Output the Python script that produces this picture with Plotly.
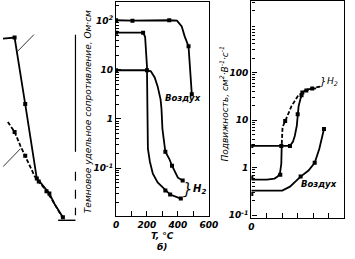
import plotly.graph_objects as go

W, H = 355, 259

# ---------------- data ----------------
# panel a (left, partly cut off): resistivity, arbitrary abscissa
a_x_solid = [0, 12, 23, 35, 38, 48, 53, 58, 62]
a_y_solid = [43.3, 45.4, 2.01, 0.0614, 0.0533, 0.0305, 0.0192, 0.0132, 0.0100]
a_x_solid_pts = [12, 23, 35, 48, 62]
a_y_solid_pts = [45.4, 2.01, 0.0614, 0.0305, 0.0100]
a_x_dash = [5, 12, 18, 23, 28, 33, 37, 43, 50, 57, 62]
a_y_dash = [0.87, 0.546, 0.285, 0.179, 0.112, 0.0673, 0.0533, 0.0386, 0.0242, 0.0138, 0.0095]
a_x_dash_pts = [12, 23, 37, 45]
a_y_dash_pts = [0.546, 0.179, 0.0533, 0.034]
a_lead1_x, a_lead1_y = [15, 32], [23.7, 52.1]
a_lead2_x, a_lead2_y = [0, 18], [0.107, 0.248]

# panel б (middle): dark resistivity, Ом·см, vs T, °C
t_air = [0, 106, 344, 394, 425, 444, 469, 478, 485, 490]
rho_air = [102, 100, 102, 100, 76, 48, 30, 12, 5.6, 3.2]
t_air_pts = [0, 106, 344, 469, 490]
rho_air_pts = [102, 100, 102, 30, 3.2]

t_h2a = [0, 175, 188, 194, 200, 203, 206, 219, 238, 269, 319, 350, 419]
rho_h2a = [57, 57, 47, 26, 11.8, 1.6, 0.25, 0.135, 0.077, 0.051, 0.035, 0.029, 0.024]
t_h2a_pts = [0, 175, 319, 350, 419]
rho_h2a_pts = [57, 57, 0.035, 0.029, 0.024]

t_h2b = [0, 200, 225, 250, 269, 288, 294, 300, 319, 344, 362, 400, 431]
rho_h2b = [9.8, 9.8, 9.3, 7.0, 4.6, 2.5, 1.6, 0.63, 0.215, 0.155, 0.112, 0.064, 0.056]
t_h2b_pts = [0, 200, 319, 362, 431]
rho_h2b_pts = [9.8, 9.8, 0.215, 0.112, 0.056]

# panel в (right): mobility, см²·В⁻¹·с⁻¹
m_air_x = [0, 1.0, 2.0, 2.5, 3.19, 3.7, 4.1, 4.4, 4.7]
m_air_y = [0.33, 0.33, 0.33, 0.40, 0.65, 0.87, 1.27, 2.5, 6.5]
m_air_px = [0, 3.19, 4.1, 4.7]
m_air_py = [0.28, 0.65, 1.27, 6.5]

m_h2s_x = [0, 1.0, 1.5, 1.7, 1.85, 1.94, 1.97, 2.02, 2.19, 2.6, 3.0, 3.44, 3.9, 4.5]
m_h2s_y = [0.56, 0.56, 0.59, 0.65, 0.75, 1.21, 3.16, 7.1, 9.5, 19.6, 31.6, 40, 46, 51]
m_h2s_px = [0, 1.875, 2.19, 3.3]
m_h2s_py = [0.62, 0.71, 9.5, 38]

m_h2r_x = [0, 1.94, 2.5, 2.69, 2.81, 2.94, 3.0, 3.06, 3.19, 3.31, 3.625, 4.19]
m_h2r_y = [2.87, 2.87, 2.87, 3.48, 4.64, 7.5, 13.3, 19.6, 28.7, 38.3, 44.3, 46.4]
m_h2r_px = [0, 1.94, 2.5, 3.0, 3.25, 3.56, 3.94]
m_h2r_py = [2.87, 2.87, 2.87, 13.3, 33, 42, 46]

# tick labels
b_yvals = [0.01, 0.1, 1, 10, 100]
b_ytext = ["10<sup>-2</sup>", "10<sup>-1</sup>", "1", "10", "10<sup>2</sup>"]
b_xvals = [0, 200, 400, 600]
b_xtext = ["0", "200", "400", "600"]
c_yvals = [0.1, 1, 10, 100]
c_ytext = ["10<sup>-1</sup>", "1", "10", "100"]
c_xvals = [0]
c_xtext = ["0"]

# ---------------- figure ----------------
def px(x):
    return x / W

def py(y):
    return 1 - y / H

FONT = "DejaVu Sans"
LW = 1.8
MK = dict(symbol="square", size=4, color="black")

fig = go.Figure()

def line(x, y, xa, ya, dash="solid", width=LW):
    fig.add_trace(go.Scatter(x=x, y=y, mode="lines", xaxis=xa, yaxis=ya,
                             line=dict(color="black", width=width, dash=dash),
                             showlegend=False, hoverinfo="skip"))

def pts(x, y, xa, ya):
    fig.add_trace(go.Scatter(x=x, y=y, mode="markers", xaxis=xa, yaxis=ya,
                             marker=MK, showlegend=False, hoverinfo="skip"))

# panel a
line(a_x_solid, a_y_solid, "x3", "y3")
pts(a_x_solid_pts, a_y_solid_pts, "x3", "y3")
line(a_x_dash, a_y_dash, "x3", "y3", dash="4px,2px")
pts(a_x_dash_pts, a_y_dash_pts, "x3", "y3")
line(a_lead1_x, a_lead1_y, "x3", "y3", width=0.8)
line(a_lead2_x, a_lead2_y, "x3", "y3", width=0.8)

# panel б
line(t_air, rho_air, "x", "y")
pts(t_air_pts, rho_air_pts, "x", "y")
line(t_h2a, rho_h2a, "x", "y")
pts(t_h2a_pts, rho_h2a_pts, "x", "y")
line(t_h2b, rho_h2b, "x", "y")
pts(t_h2b_pts, rho_h2b_pts, "x", "y")

# panel в
line(m_air_x, m_air_y, "x2", "y2")
pts(m_air_px, m_air_py, "x2", "y2")
line(m_h2s_x[:7], m_h2s_y[:7], "x2", "y2")
line(m_h2s_x[6:], m_h2s_y[6:], "x2", "y2", dash="4px,2px")
pts(m_h2s_px, m_h2s_py, "x2", "y2")
line(m_h2r_x, m_h2r_y, "x2", "y2")
pts(m_h2r_px, m_h2r_py, "x2", "y2")

tickfont = dict(family=FONT, size=9, color="black", style="italic", weight="bold")

def log_minor(lo, hi):
    out = []
    for e in range(lo, hi):
        for k in range(2, 10):
            out.append(k * 10 ** e)
    return out

axis_common = dict(showline=True, linecolor="black", linewidth=1.4, mirror=True,
                   ticks="inside", tickcolor="black", tickwidth=1.2,
                   showgrid=False, zeroline=False, tickfont=tickfont, ticklen=5)
minor_lin = dict(ticks="inside", ticklen=5, tickcolor="black", tickwidth=1.2, showgrid=False)

fig.update_layout(
    width=W, height=H, margin=dict(l=0, r=0, t=0, b=0),
    paper_bgcolor="white", plot_bgcolor="white",
    xaxis=dict(domain=[px(117), px(213)], range=[0, 600], anchor="y",
               tickmode="array", tickvals=b_xvals, ticktext=b_xtext,
               minor=dict(tickvals=[100, 300, 500], **minor_lin), **axis_common),
    yaxis=dict(domain=[py(218), py(2)], type="log", range=[-1.98, 2.38], anchor="x",
               tickmode="array", tickvals=b_yvals, ticktext=b_ytext,
               minor=dict(tickvals=log_minor(-2, 3), ticks="inside", ticklen=3,
                          tickcolor="black", showgrid=False),
               **axis_common),
    xaxis2=dict(domain=[px(257), px(353)], range=[0, 6], anchor="y2",
                tickmode="array", tickvals=c_xvals, ticktext=c_xtext,
                minor=dict(tickvals=[1, 2, 3, 4, 5], **minor_lin), **axis_common),
    yaxis2=dict(domain=[py(220), py(1)], type="log", range=[-1.0625, 3.5], anchor="x2",
                tickmode="array", tickvals=c_yvals, ticktext=c_ytext,
                minor=dict(tickvals=log_minor(-1, 4), ticks="inside", ticklen=3,
                           tickcolor="black", showgrid=False),
                **axis_common),
    xaxis3=dict(domain=[0, px(75)], range=[0, 75], anchor="y3", visible=False),
    yaxis3=dict(domain=[py(222), py(2)], type="log", range=[-2.06, 2.38], anchor="x3",
                visible=False),
)

# left panel frame fragments
fig.add_shape(type="line", xref="paper", yref="paper", x0=px(75), x1=px(75),
              y0=py(35), y1=py(153), line=dict(color="black", width=1.2))
fig.add_shape(type="line", xref="paper", yref="paper", x0=px(75), x1=px(75),
              y0=py(173), y1=py(217), line=dict(color="black", width=1.2, dash="dash"))
fig.add_shape(type="line", xref="paper", yref="paper", x0=px(57), x1=px(75),
              y0=py(222), y1=py(222), line=dict(color="black", width=1.4))

def ann(text, x, y, size=9, angle=0, xanchor="center", bold=False):
    fig.add_annotation(text=text, x=px(x), y=py(y), xref="paper", yref="paper",
                       showarrow=False, textangle=angle, xanchor=xanchor, yanchor="middle",
                       font=dict(family=FONT, size=size, color="black", style="italic",
                                 weight="bold" if bold else "normal"))

ann("Темновое удельное сопротивление, Ом·см", 88, 113, size=9, angle=-90)
ann("Подвижность, см<sup>2</sup>·В<sup>-1</sup>·с<sup>-1</sup>", 229, 104, size=9, angle=-90)
ann("T, °C", 165, 238, size=9, bold=True)
ann("б)", 165, 249, size=9, bold=True)
ann("Воздух", 186, 99, size=8.5, bold=True)
ann("}", 191, 190, size=15)
ann("H<sub>2</sub>", 203, 191, size=10, bold=True)
ann("Воздух", 327, 185, size=8.5, bold=True)
ann("}", 331, 82, size=10)
ann("H<sub>2</sub>", 341, 82, size=9)

fig.write_html("out.html")
